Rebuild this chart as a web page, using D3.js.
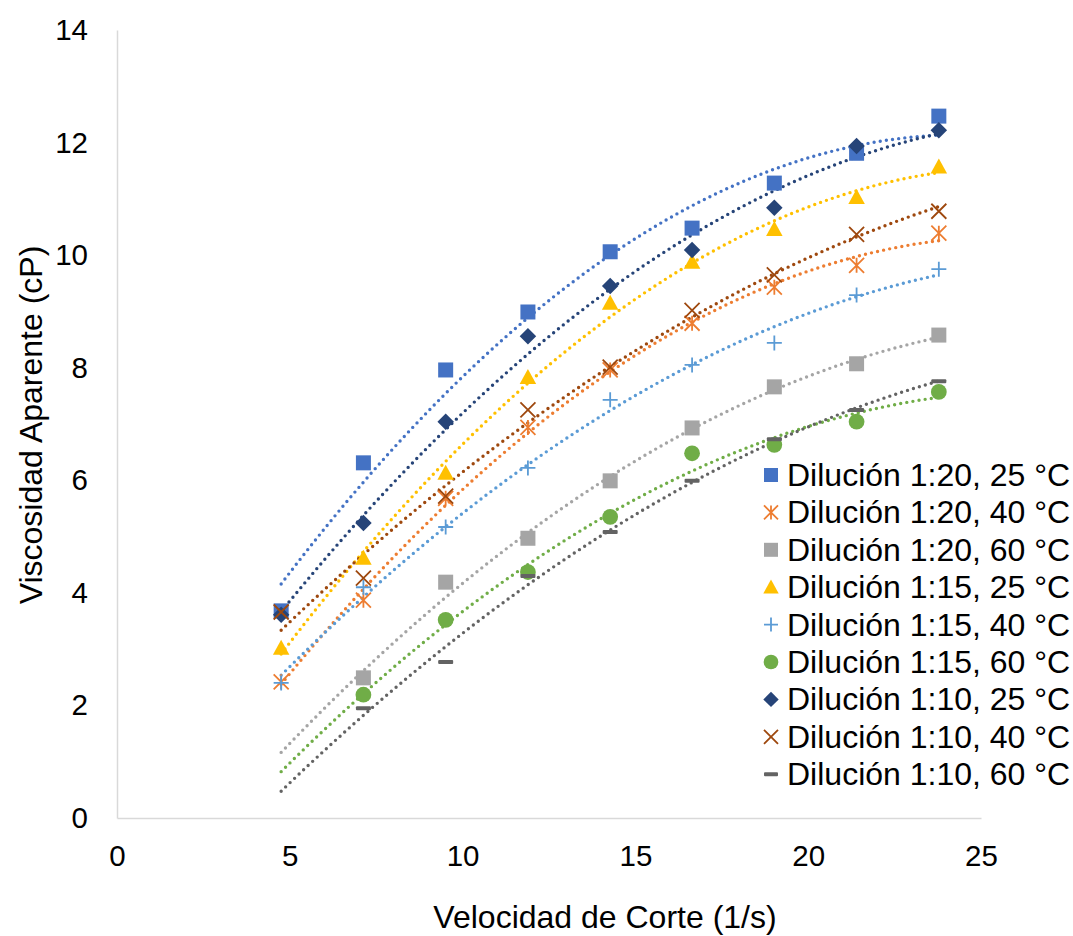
<!DOCTYPE html>
<html><head><meta charset="utf-8">
<script src="https://cdn.jsdelivr.net/npm/d3@7"></script>
<style>body{margin:0;background:#fff;} svg{display:block;font-family:"Liberation Sans",Arial,sans-serif;}</style>
</head><body>
<svg id="c" width="1073" height="936"></svg>
<script>
const shearRates = [4.75, 7.13, 9.51, 11.89, 14.27, 16.64, 19.02, 21.40, 23.78];
const xTicks = [0, 5, 10, 15, 20, 25];
const yTicks = [0, 2, 4, 6, 8, 10, 12, 14];
const seriesNames = ["Dilución 1:20, 25 °C","Dilución 1:20, 40 °C","Dilución 1:20, 60 °C","Dilución 1:15, 25 °C","Dilución 1:15, 40 °C","Dilución 1:15, 60 °C","Dilución 1:10, 25 °C","Dilución 1:10, 40 °C","Dilución 1:10, 60 °C"];
const seriesColors = ["#4472C4","#ED7D31","#A5A5A5","#FFC000","#5B9BD5","#70AD47","#264478","#9E480E","#636363"];
const seriesMarkers = ["square","star","square","triangle","plus","circle","diamond","x","dash"];
// null = no point at that shear rate
const d120_25 = [3.68, 6.31, 7.96, 8.99, 10.06, 10.48, 11.28, 11.81, 12.47];
const d120_40 = [2.42, 3.87, 5.68, 6.94, 7.96, 8.79, 9.43, 9.82, 10.39];
const d120_60 = [null, 2.49, 4.19, 4.97, 5.99, 6.93, 7.66, 8.07, 8.58];
const d115_25 = [3.02, 4.62, 6.13, 7.83, 9.15, 9.88, 10.46, 11.03, 11.57];
const d115_40 = [2.40, 4.10, 5.17, 6.22, 7.43, 8.05, 8.44, 9.29, 9.75];
const d115_60 = [null, 2.19, 3.52, 4.37, 5.35, 6.48, 6.63, 7.04, 7.57];
const d110_25 = [3.61, 5.24, 7.04, 8.56, 9.45, 10.09, 10.84, 11.94, 12.22];
const d110_40 = [3.66, 4.26, 5.72, 7.25, 8.01, 9.02, 9.65, 10.37, 10.78];
const d110_60 = [null, 1.95, 2.77, 4.30, 5.08, 5.99, 6.73, 7.25, 7.76];
const seriesValues = [d120_25,d120_40,d120_60,d115_25,d115_40,d115_60,d110_25,d110_40,d110_60];

const svg = d3.select("#c");
const x = d3.scaleLinear().domain([0,25]).range([117,981]);
const y = d3.scaleLinear().domain([0,14]).range([818,30]);
const FF = "Liberation Sans, Arial, sans-serif";

const xAxis = d3.axisBottom(x).tickValues(xTicks).tickSize(0).tickPadding(27);
const gx = svg.append("g").attr("transform","translate(0,818)").call(xAxis);
gx.select(".domain").attr("stroke","#d9d9d9").attr("stroke-width",1.5);
gx.selectAll("text").attr("font-size",29.5).attr("fill","#000").attr("font-family",FF);
const yAxis = d3.axisLeft(y).tickValues(yTicks).tickSize(0).tickPadding(29);
const gy = svg.append("g").attr("transform","translate(117,0)").call(yAxis);
gy.select(".domain").attr("stroke","#d9d9d9").attr("stroke-width",1.5);
gy.selectAll("text").attr("font-size",29.5).attr("fill","#000").attr("font-family",FF);

svg.append("text").attr("x",605).attr("y",928).attr("text-anchor","middle").attr("font-size",32).text("Velocidad de Corte (1/s)");
svg.append("text").attr("transform","translate(42,425) rotate(-90)").attr("text-anchor","middle").attr("font-size",32).text("Viscosidad Aparente (cP)");

function polyfit2(xs, ys){
  let S=[0,0,0,0,0], T=[0,0,0];
  xs.forEach((xv,i)=>{ for(let k=0;k<5;k++) S[k]+=Math.pow(xv,k); for(let k=0;k<3;k++) T[k]+=ys[i]*Math.pow(xv,k); });
  const A=[[S[0],S[1],S[2],T[0]],[S[1],S[2],S[3],T[1]],[S[2],S[3],S[4],T[2]]];
  for(let i=0;i<3;i++){ for(let j=i+1;j<3;j++){ const f=A[j][i]/A[i][i]; for(let k=i;k<4;k++) A[j][k]-=f*A[i][k]; } }
  const c=[0,0,0];
  for(let i=2;i>=0;i--){ let s=A[i][3]; for(let k=i+1;k<3;k++) s-=A[i][k]*c[k]; c[i]=s/A[i][i]; }
  return c;
}

function marker(g, type, color, s){
  const h=s/2;
  if(type==="square") g.append("rect").attr("x",-h).attr("y",-h).attr("width",s).attr("height",s).attr("fill",color);
  else if(type==="circle") g.append("circle").attr("r",h*1.05).attr("fill",color);
  else if(type==="triangle") g.append("path").attr("d",`M0,${-h*1.1}L${h*1.1},${h*0.9}L${-h*1.1},${h*0.9}Z`).attr("fill",color);
  else if(type==="diamond") g.append("path").attr("d",`M0,${-h*1.1}L${h*1.1},0L0,${h*1.1}L${-h*1.1},0Z`).attr("fill",color);
  else if(type==="plus") g.append("path").attr("d",`M${-h},0H${h}M0,${-h}V${h}`).attr("stroke",color).attr("stroke-width",1.8).attr("fill","none");
  else if(type==="x") g.append("path").attr("d",`M${-h},${-h}L${h},${h}M${h},${-h}L${-h},${h}`).attr("stroke",color).attr("stroke-width",1.8).attr("fill","none");
  else if(type==="star") g.append("path").attr("d",`M${-h},${-h}L${h},${h}M${h},${-h}L${-h},${h}M0,${-h}V${h}`).attr("stroke",color).attr("stroke-width",1.8).attr("fill","none");
  else if(type==="dash") g.append("rect").attr("x",-h).attr("y",-2).attr("width",s).attr("height",4).attr("rx",1).attr("fill",color);
}

const line = d3.line().x(d=>x(d[0])).y(d=>y(d[1]));
seriesValues.forEach((vals,si)=>{
  const xs=[], ys=[];
  vals.forEach((v,i)=>{ if(v!==null){ xs.push(shearRates[i]); ys.push(v);} });
  const c = polyfit2(xs, ys);
  const x0=shearRates[0], x1=shearRates[shearRates.length-1];
  const pts = d3.range(0,101).map(k=>{ const xv=x0+(x1-x0)*k/100; return [xv, c[0]+c[1]*xv+c[2]*xv*xv]; });
  svg.append("path").attr("d",line(pts)).attr("fill","none").attr("stroke",seriesColors[si])
    .attr("stroke-width",3.4).attr("stroke-linecap","round").attr("stroke-dasharray","0 6.2");
});

seriesValues.forEach((vals,si)=>{
  vals.forEach((v,i)=>{
    if(v===null) return;
    const g = svg.append("g").attr("transform",`translate(${x(shearRates[i])},${y(v)})`);
    marker(g, seriesMarkers[si], seriesColors[si], 15);
  });
});

const lg = svg.append("g");
seriesNames.forEach((name,i)=>{
  const cy = 475 + i*37.4;
  const g = lg.append("g").attr("transform",`translate(771,${cy})`);
  marker(g, seriesMarkers[i], seriesColors[i], 14);
  lg.append("text").attr("x",787).attr("y",cy).attr("dominant-baseline","central").attr("font-size",32).text(name);
});
</script>
</body></html>
